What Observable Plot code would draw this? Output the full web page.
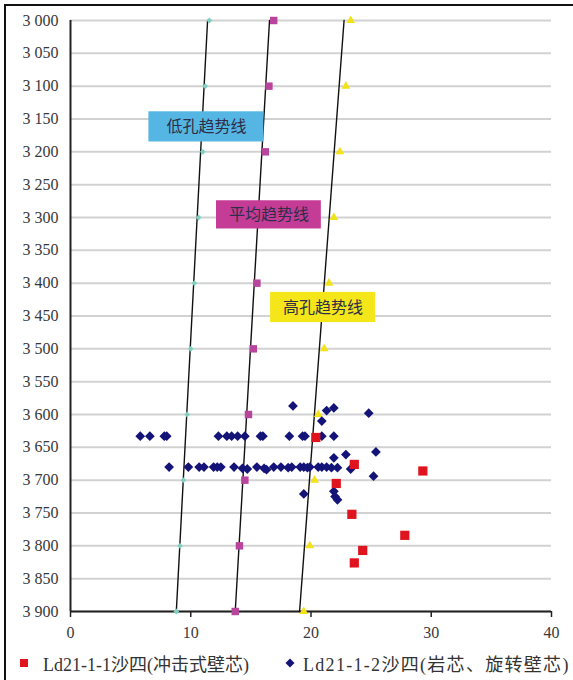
<!DOCTYPE html>
<html>
<head>
<meta charset="utf-8">
<script src="https://cdn.jsdelivr.net/npm/d3@7"></script>
<script src="https://cdn.jsdelivr.net/npm/@observablehq/plot@0.6"></script>
<style>
  body { margin: 0; background: #fff; }
  #wrap { position: relative; width: 573px; height: 680px; overflow: hidden; background: #fff; }
  #frame { position: absolute; left: 4px; top: 4px; width: 620px; height: 720px; border-left: 2px solid #111; border-top: 2px solid #111; pointer-events: none; }
  #chart { position: absolute; left: 0; top: 0; }
  .leg { position: absolute; top: 651px; height: 24px; display: flex; align-items: center; font-family: "Liberation Serif", "DejaVu Serif", "Noto Sans CJK SC", serif; font-size: 18px; color: #333; white-space: nowrap; }
</style>
</head>
<body>
<div id="wrap">
  <div id="chart"></div>
  <div id="frame"></div>
  <div class="leg" id="leg1" style="left:19px"></div>
  <div class="leg" id="leg2" style="left:285px"></div>
</div>
<script>
// ---- data ----
const trendDepths = [3000, 3100, 3200, 3300, 3400, 3500, 3600, 3700, 3800, 3900];
const lowValues  = [11.55, 11.2, 11.0, 10.65, 10.3, 10.0, 9.7, 9.4, 9.1, 8.8];
const avgValues  = [16.9, 16.5, 16.2, 15.9, 15.5, 15.2, 14.8, 14.5, 14.05, 13.7];
const highValues = [23.3, 22.9, 22.4, 21.9, 21.5, 21.1, 20.6, 20.3, 19.9, 19.4];

// trend lines (end points at 3000 m and 3900 m)
const lineDepths = [3000, 3900];
const lowLine  = [11.4, 8.8];
const avgLine  = [16.55, 13.7];
const highLine = [22.75, 19.05];

// Ld21-1-1 沙四 (冲击式壁芯) — red squares
const redX     = [20.4, 23.6, 29.3, 22.1, 23.4, 27.8, 24.3, 23.6];
const redDepth = [3635, 3676, 3686, 3705, 3752, 3784, 3807, 3826];

// Ld21-1-2 沙四 (岩芯、旋转壁芯) — blue diamonds
const blueX = [
  5.8, 6.6, 7.8, 8.0, 12.3, 13.0, 13.4, 13.9, 14.5, 15.8, 16.0, 18.2, 19.3, 19.5, 20.9, 21.9,
  8.2, 9.8, 10.7, 11.1, 11.9, 12.2, 12.5, 13.6, 14.3, 14.7, 15.5, 16.1, 16.3, 16.9, 17.5, 18.1, 18.4,
  19.1, 19.4, 19.7, 19.9, 20.6, 20.9, 21.3, 21.7, 22.2,
  18.5, 21.3, 21.9, 24.8, 20.9, 22.9, 25.4, 21.9, 23.3, 25.2, 19.4, 21.9, 22.0, 22.2
];
const blueDepth = [
  3633, 3633, 3633, 3633, 3633, 3633, 3633, 3633, 3633, 3633, 3633, 3633, 3633, 3633, 3633, 3633,
  3680, 3680, 3680, 3680, 3680, 3680, 3680, 3680, 3682, 3683, 3680, 3682, 3684, 3680, 3680, 3681, 3680,
  3680, 3680, 3681, 3680, 3680, 3680, 3680, 3681, 3681,
  3587, 3594, 3590, 3598, 3610, 3661, 3657, 3666, 3683, 3694, 3721, 3717, 3725, 3730
];

const labelNames  = ["低孔趋势线", "平均趋势线", "高孔趋势线"];
const labelX      = [11.3, 16.5, 21.0];
const labelDepth  = [3162, 3296, 3437];
const labelColors = ["#55b6e4", "#c43c96", "#f5e61a"];

const legendNames = ["Ld21-1-1沙四(冲击式壁芯)", "Ld21-1-2沙四(岩芯、旋转壁芯)"];

const xTicks = [0, 10, 20, 30, 40];
const yTicks = [3000, 3050, 3100, 3150, 3200, 3250, 3300, 3350, 3400, 3450,
                3500, 3550, 3600, 3650, 3700, 3750, 3800, 3850, 3900];

// ---- tables ----
const lowPts  = trendDepths.map((d, i) => ({x: lowValues[i], y: d}));
const avgPts  = trendDepths.map((d, i) => ({x: avgValues[i], y: d}));
const highPts = trendDepths.map((d, i) => ({x: highValues[i], y: d}));
const lines = [
  ...lineDepths.map((d, i) => ({x: lowLine[i],  y: d, s: "low"})),
  ...lineDepths.map((d, i) => ({x: avgLine[i],  y: d, s: "avg"})),
  ...lineDepths.map((d, i) => ({x: highLine[i], y: d, s: "high"}))
];
const reds  = redX.map((x, i) => ({x, y: redDepth[i]}));
const blues = blueX.map((x, i) => ({x, y: blueDepth[i]}));
const labels = labelNames.map((t, i) => ({t, x: labelX[i], y: labelDepth[i], c: labelColors[i],
  hw: i === 0 ? 4.78 : 4.36, hh: i === 1 ? 21.5 : 23}));

const fmt = d => String(d).replace(/^(\d)(\d{3})$/, "$1 $2");
const serif = "'Liberation Serif', 'DejaVu Serif', serif";

const chart = Plot.plot({
  width: 573,
  height: 650,
  marginLeft: 70,
  marginRight: 22,
  marginTop: 20,
  marginBottom: 39,
  style: {fontFamily: serif, fontSize: "16px", color: "#383838", background: "transparent", overflow: "visible"},
  x: {domain: [0, 40]},
  y: {domain: [3000, 3900], reverse: true},
  marks: [
    Plot.gridY(yTicks, {stroke: "#d2d2d2", strokeWidth: 2, strokeOpacity: 1}),
    Plot.axisY(yTicks, {tickSize: 0, tickPadding: 12, tickFormat: fmt, label: null, fontSize: 16, fontFamily: serif}),
    Plot.axisX(xTicks, {tickSize: 6, tickPadding: 9, label: null, fontSize: 16, fontFamily: serif, stroke: "#222", strokeWidth: 1.5}),
    Plot.ruleX([0], {stroke: "#222", strokeWidth: 2}),
    Plot.ruleY([3900], {stroke: "#222", strokeWidth: 2}),
    Plot.line(lines, {x: "x", y: "y", z: "s", stroke: "#111", strokeWidth: 1.4}),
    Plot.dot(lowPts,  {x: "x", y: "y", symbol: "diamond2", r: 2.6, fill: "#7fd0c0", stroke: "none"}),
    Plot.dot(avgPts,  {x: "x", y: "y", symbol: "square", r: 4.2, fill: "#b8449c", stroke: "none"}),
    Plot.dot(highPts, {x: "x", y: "y", symbol: "triangle2", r: 4.2, fill: "#f3e21a", stroke: "none"}),
    Plot.dot(blues, {x: "x", y: "y", symbol: "diamond2", r: 4.4, fill: "#141478", stroke: "none"}),
    Plot.dot(reds,  {x: "x", y: "y", symbol: "square", r: 5.2, fill: "#e0141e", stroke: "none"}),
    Plot.rect(labels, {x1: d => d.x - d.hw, x2: d => d.x + d.hw, y1: d => d.y - d.hh, y2: d => d.y + d.hh, fill: "c"}),
    Plot.text(labels, {x: "x", y: "y", text: "t", fill: "#2e2e48", fontSize: 16, fontFamily: "'Noto Sans CJK SC', sans-serif"})
  ]
});
document.getElementById("chart").appendChild(chart);

// ---- legend ----
document.getElementById("leg1").innerHTML =
  '<svg width="10" height="10" style="margin-right:14px"><rect x="1" y="1" width="8" height="8" fill="#e0141e"/></svg>' +
  '<span></span>';
document.querySelector("#leg1 span").textContent = legendNames[0];
document.getElementById("leg2").innerHTML =
  '<svg width="10" height="10" style="margin-right:8px"><path d="M5 0.5 L9.5 5 L5 9.5 L0.5 5 Z" fill="#141478"/></svg>' +
  '<span style="letter-spacing:1.3px"></span>';
document.querySelector("#leg2 span").textContent = legendNames[1];
</script>
</body>
</html>
